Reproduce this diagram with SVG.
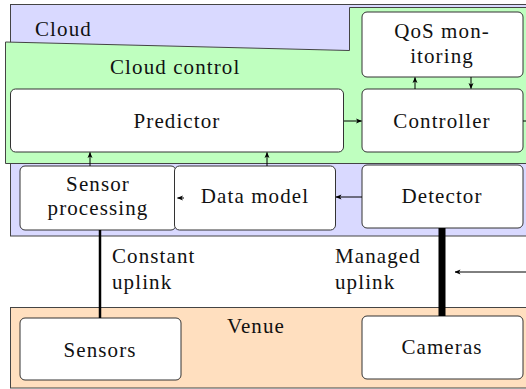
<svg xmlns="http://www.w3.org/2000/svg" width="526" height="389" viewBox="0 0 526 389">
<defs>
<style>
text{font-family:'Liberation Serif','Times New Roman',serif;font-size:21px;letter-spacing:1.1px;fill:#111}
.c{text-anchor:middle}
.box{fill:#fff;stroke:#333;stroke-width:1}
.reg{stroke:#444;stroke-width:1}
.ar{fill:none;stroke:#000;stroke-width:1;marker-end:url(#ah)}
</style>
<marker id="ah" viewBox="0 0 6 6" refX="5.5" refY="3" markerWidth="6" markerHeight="6" markerUnits="userSpaceOnUse" orient="auto">
<path d="M0,0.5 L6,3 L0,5.5 L1.5,3 Z" fill="#000"/>
</marker>
</defs>
<g id="cloud">
<rect class="reg" x="10.5" y="4.5" width="530" height="231.5" fill="#d9d9ff"/>
<text x="35" y="36">Cloud</text>
</g>
<g id="cloud-control">
<path class="reg" d="M5.5,42 L349.5,50.5 L349.5,7.5 L540,7.5 L540,163.5 L5.5,163.5 Z" fill="#bfffbf"/>
<text x="110" y="74">Cloud control</text>
</g>
<g id="venue">
<rect class="reg" x="10.5" y="307.5" width="530" height="80.5" fill="#ffdfbf"/>
<text x="227" y="333">Venue</text>
</g>
<g id="qos">
<rect class="box" x="362" y="12" width="161" height="65" rx="5"/>
<text class="c" x="442" y="38">QoS mon-</text>
<text class="c" x="442" y="63">itoring</text>
</g>
<g id="predictor">
<rect class="box" x="10.5" y="89" width="333" height="63" rx="5"/>
<text class="c" x="177" y="128">Predictor</text>
</g>
<g id="controller">
<rect class="box" x="362" y="89" width="161" height="63" rx="5"/>
<text class="c" x="442" y="128">Controller</text>
</g>
<g id="sensor-processing">
<rect class="box" x="20" y="166" width="156" height="64" rx="5"/>
<text class="c" x="98" y="191">Sensor</text>
<text class="c" x="98" y="215">processing</text>
</g>
<g id="data-model">
<rect class="box" x="174.5" y="166" width="161" height="64" rx="5"/>
<text class="c" x="255" y="203">Data model</text>
</g>
<g id="detector">
<rect class="box" x="362" y="165" width="161" height="63" rx="5"/>
<text class="c" x="442" y="203">Detector</text>
</g>
<g id="sensors">
<rect class="box" x="20" y="318" width="161" height="62" rx="5"/>
<text class="c" x="100" y="357">Sensors</text>
</g>
<g id="cameras">
<rect class="box" x="362" y="316" width="161" height="63" rx="5"/>
<text class="c" x="442" y="354">Cameras</text>
</g>
<g id="connectors">
<path class="ar" d="M344,121 L361.5,121"/>
<path fill="none" stroke="#000" stroke-width="1" d="M523,121 L526,121"/>
<path class="ar" d="M415,89 L415,77.5"/>
<path class="ar" d="M471,77 L471,88.5"/>
<path class="ar" d="M90,166 L90,152.5"/>
<path class="ar" d="M267,166 L267,152.5"/>
<path class="ar" d="M362,197 L336,197"/>
<path class="ar" d="M184,198 L177.5,198"/>
<path class="ar" d="M526,272 L455,272"/>
<line x1="100" y1="230" x2="100" y2="318" stroke="#000" stroke-width="2.5"/>
<line x1="442" y1="228" x2="442" y2="316" stroke="#000" stroke-width="7"/>
</g>
<g id="labels">
<text x="112" y="263">Constant</text>
<text x="112" y="289">uplink</text>
<text x="335" y="263">Managed</text>
<text x="335" y="289">uplink</text>
</g>
</svg>
